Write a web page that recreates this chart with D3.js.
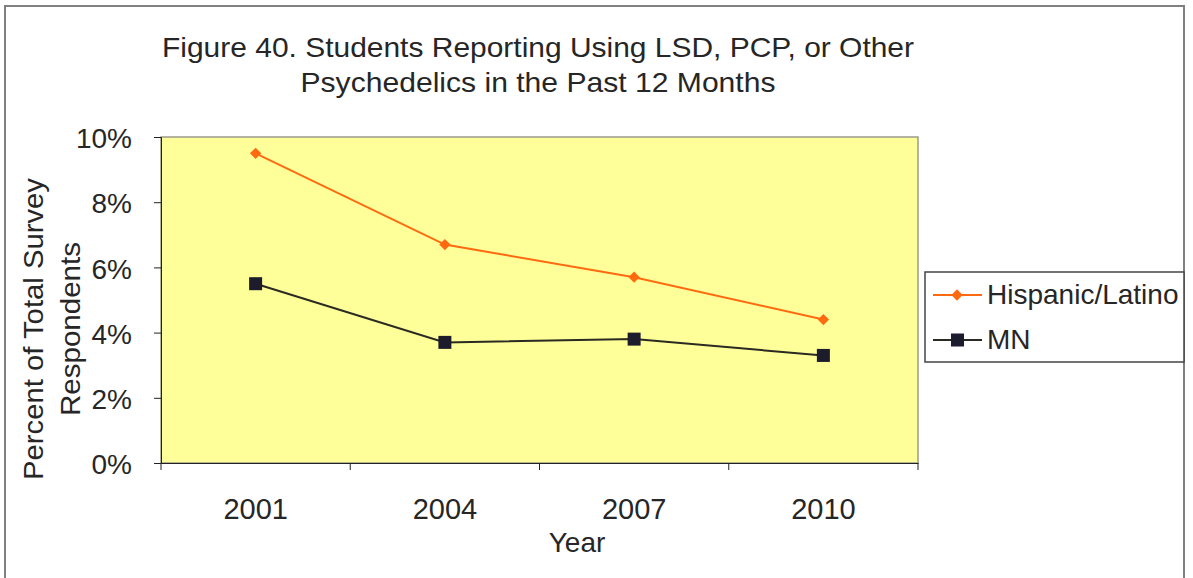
<!DOCTYPE html>
<html><head><meta charset="utf-8">
<script src="https://cdn.jsdelivr.net/npm/d3@7"></script>
<style>body{margin:0;background:#fff}svg{display:block;font-family:"Liberation Sans",Arial,sans-serif}</style>
</head><body><svg id="c" width="1193" height="578"></svg>
<script>
const years = ["2001","2004","2007","2010"];
const hispanic = [9.5, 6.7, 5.7, 4.4];
const mn = [5.5, 3.7, 3.8, 3.3];
const yTicks = [0,2,4,6,8,10];
const seriesNames = ["Hispanic/Latino","MN"];
const titleLines = ["Figure 40. Students Reporting Using LSD, PCP, or Other","Psychedelics in the Past 12 Months"];
const yTitleLines = ["Percent of Total Survey","Respondents"];

const TXT = "#262626";
const svg = d3.select("#c");
svg.append("rect").attr("x",5).attr("y",6).attr("width",1179).attr("height",580).attr("fill","#fff").attr("stroke","#808080").attr("stroke-width",2);

const L=161,T=137,R=918,B=463;
const x = d3.scaleBand().domain(years).range([L,R]);
const y = d3.scaleLinear().domain([0,10]).range([B,T]);

svg.append("rect").attr("x",L).attr("y",T).attr("width",R-L).attr("height",B-T).attr("fill","#FFFF99").attr("stroke","#9a9a8a").attr("stroke-width",1.5);

const ya = svg.append("g").attr("transform",`translate(${L},0)`)
  .call(d3.axisLeft(y).tickValues(yTicks).tickFormat(d=>d+"%").tickSize(7).tickPadding(22));
ya.select(".domain").attr("stroke","#222");
ya.selectAll(".tick line").attr("stroke","#222");
ya.selectAll("text").attr("font-size",28).attr("fill",TXT).attr("font-family","Liberation Sans, Arial").attr("dy","0.38em");

const xa = svg.append("g").attr("transform",`translate(0,${B})`)
  .call(d3.axisBottom(x).tickSize(0).tickPadding(35));
xa.select(".domain").attr("stroke","#222");
xa.selectAll("text").attr("font-size",29).attr("fill",TXT).attr("font-family","Liberation Sans, Arial");
svg.append("g").selectAll("line").data(d3.range(years.length+1)).join("line")
  .attr("x1",i=>L+i*x.step()).attr("x2",i=>L+i*x.step())
  .attr("y1",B).attr("y2",B+7).attr("stroke","#222");

const titleW=[752,475];
svg.append("g").selectAll("text").data(titleLines).join("text")
  .attr("x",538).attr("y",(d,i)=>57+i*35).attr("text-anchor","middle")
  .attr("font-size",28).attr("fill",TXT)
  .attr("textLength",(d,i)=>titleW[i]).attr("lengthAdjust","spacingAndGlyphs").text(d=>d);

const yTitleW=[302,174];
svg.append("g").selectAll("text").data(yTitleLines).join("text")
  .attr("transform",(d,i)=>`translate(${43+i*37},329) rotate(-90)`).attr("text-anchor","middle")
  .attr("font-size",28).attr("fill",TXT)
  .attr("textLength",(d,i)=>yTitleW[i]).attr("lengthAdjust","spacingAndGlyphs").text(d=>d);

svg.append("text").attr("x",577).attr("y",552).attr("text-anchor","middle").attr("font-size",28).attr("fill",TXT).text("Year");

const ORANGE="#FF6A10", DARK="#2a2a22", SQ="#1c1c2c";
const cx = d=>x(d)+x.bandwidth()/2;
const line = d3.line().x((d,i)=>cx(years[i])).y(d=>y(d));
svg.append("path").datum(hispanic).attr("d",line).attr("fill","none").attr("stroke",ORANGE).attr("stroke-width",2);
svg.append("path").datum(mn).attr("d",line).attr("fill","none").attr("stroke",DARK).attr("stroke-width",2);
const diamond = d3.symbol().type(d3.symbolSquare).size(64);
svg.append("g").selectAll("path").data(hispanic).join("path")
  .attr("transform",(d,i)=>`translate(${cx(years[i])},${y(d)}) rotate(45)`).attr("d",diamond).attr("fill",ORANGE);
svg.append("g").selectAll("rect").data(mn).join("rect")
  .attr("x",(d,i)=>cx(years[i])-6.5).attr("y",d=>y(d)-6.5).attr("width",13).attr("height",13).attr("fill",SQ);

// legend
const lg = svg.append("g");
lg.append("rect").attr("x",925).attr("y",272).attr("width",259).attr("height",90).attr("fill","#fff").attr("stroke","#444").attr("stroke-width",1.5);
const colors=[ORANGE,DARK];
seriesNames.forEach((n,i)=>{
  const yy=295+i*45;
  lg.append("line").attr("x1",933).attr("x2",982).attr("y1",yy).attr("y2",yy).attr("stroke",colors[i]).attr("stroke-width",2);
  if(i===0) lg.append("path").attr("transform",`translate(957,${yy}) rotate(45)`).attr("d",diamond).attr("fill",ORANGE);
  else lg.append("rect").attr("x",951).attr("y",yy-6.5).attr("width",13).attr("height",13).attr("fill",SQ);
  lg.append("text").attr("x",987).attr("y",yy+9).attr("font-size",28).attr("fill",TXT).text(n);
});
</script></body></html>
